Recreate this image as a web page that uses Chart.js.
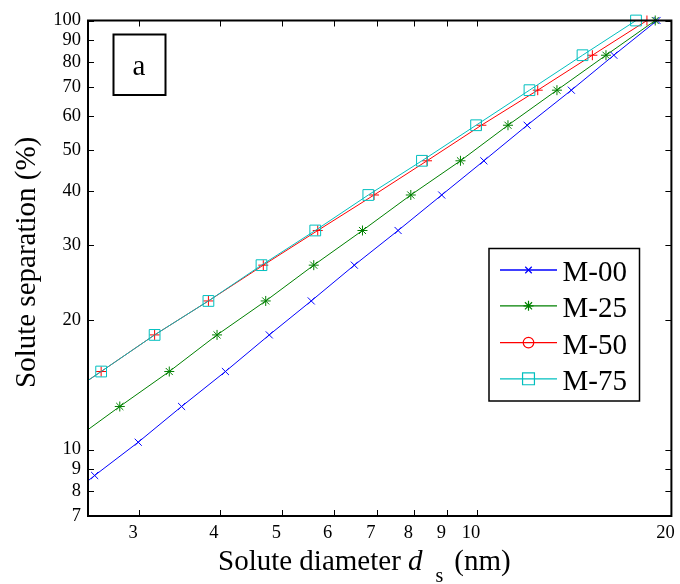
<!DOCTYPE html>
<html>
<head>
<meta charset="utf-8">
<title>Solute separation vs solute diameter</title>
<script src="https://cdn.jsdelivr.net/npm/chart.js@4/dist/chart.umd.min.js"></script>
<style>
  html, body { margin: 0; padding: 0; background: #ffffff; }
  #wrap { width: 680px; height: 584px; }
  canvas { display: block; }
</style>
</head>
<body>
<div id="wrap"><canvas id="chart" width="680" height="584"></canvas></div>
<script>
// Series labels
const seriesNames = ['M-00', 'M-25', 'M-50', 'M-75'];

// Solute diameter d_s (nm) for each membrane
const diameterM00 = [2.19, 2.56, 2.99, 3.49, 4.08, 4.77, 5.54, 6.46, 7.55, 8.82, 10.25, 11.96, 14.0, 16.29, 19.0];
const diameterM25 = [2.35, 2.80, 3.34, 3.96, 4.71, 5.59, 6.65, 7.90, 9.43, 11.17, 13.30, 15.84, 18.88];
const diameterM50 = [2.18, 2.62, 3.17, 3.84, 4.67, 5.67, 6.93, 8.37, 10.16, 12.42, 15.09, 18.33];
const diameterM75 = [2.18, 2.62, 3.17, 3.84, 4.64, 5.62, 6.79, 8.22, 9.97, 12.06, 14.57, 17.63];

// Solute separation (%) for each membrane
const separationM00 = [7.2, 8.7, 10.4, 12.6, 15.2, 18.5, 22.2, 26.9, 32.4, 39.2, 47.1, 57.0, 68.8, 83.0, 100];
const separationM25 = [10.4, 12.6, 15.2, 18.5, 22.2, 26.9, 32.4, 39.2, 47.1, 57.0, 68.8, 83.0, 100];
const separationM50 = [12.6, 15.2, 18.5, 22.2, 26.9, 32.4, 39.2, 47.1, 57.0, 68.8, 83.0, 100];
const separationM75 = [12.6, 15.2, 18.5, 22.2, 26.9, 32.4, 39.2, 47.1, 57.0, 68.8, 83.0, 100];

// Axis ticks
const xTicks = [3, 4, 5, 6, 7, 8, 9, 10, 20];
const yTicks = [7, 8, 9, 10, 20, 30, 40, 50, 60, 70, 80, 90, 100];

const SERIF = "'Liberation Serif', 'Times New Roman', serif";

const colors = ['#0000ff', '#008000', '#ff0000', '#00bfbf'];
const plotMarkers = ['crossRot', 'star', 'cross', 'rect'];
const plotRadius = [5, 5, 5, 7.6];
const legendMarkers = ['crossRot', 'star', 'circle', 'rect'];
const legendRadius = [4.6, 5, 5.3, 8.4];

function toPoints(xs, ys) {
  return xs.map((x, i) => ({ x: x, y: ys[i] }));
}

const seriesData = [
  toPoints(diameterM00, separationM00),
  toPoints(diameterM25, separationM25),
  toPoints(diameterM50, separationM50),
  toPoints(diameterM75, separationM75)
];

const datasets = seriesNames.map((name, i) => ({
  label: name,
  data: seriesData[i],
  borderColor: colors[i],
  backgroundColor: 'rgba(0,0,0,0)',
  borderWidth: 1,
  pointStyle: plotMarkers[i],
  pointRadius: plotRadius[i],
  pointBorderWidth: 1,
  pointBorderColor: colors[i],
  pointBackgroundColor: 'rgba(0,0,0,0)',
  tension: 0,
  fill: false,
  order: seriesNames.length - 1 - i,
  clip: { left: 0, top: 12, right: 12, bottom: 0 }
}));

// Frame, inward ticks, axis titles, panel label and legend
const decorations = {
  id: 'decorations',
  afterDraw(chart) {
    const ctx = chart.ctx;
    const area = chart.chartArea;
    const xs = chart.scales.x;
    const ys = chart.scales.y;
    const tickLen = 6;

    ctx.save();
    // inward tick marks on all four sides
    ctx.strokeStyle = '#000000';
    ctx.lineWidth = 1;
    ctx.beginPath();
    xTicks.forEach(v => {
      const px = Math.round(xs.getPixelForValue(v)) + 0.5;
      ctx.moveTo(px, area.bottom); ctx.lineTo(px, area.bottom - tickLen);
      ctx.moveTo(px, area.top); ctx.lineTo(px, area.top + tickLen);
    });
    yTicks.forEach(v => {
      const py = Math.round(ys.getPixelForValue(v)) + 0.5;
      ctx.moveTo(area.left, py); ctx.lineTo(area.left + tickLen, py);
      ctx.moveTo(area.right, py); ctx.lineTo(area.right - tickLen, py);
    });
    ctx.stroke();

    // plot frame
    ctx.lineWidth = 2;
    ctx.strokeRect(area.left, area.top, area.right - area.left, area.bottom - area.top);

    // x-axis title with italic d and subscript s
    ctx.fillStyle = '#000000';
    ctx.textBaseline = 'alphabetic';
    ctx.textAlign = 'left';
    let tx = 218;
    const baseY = 570;
    ctx.font = '29px ' + SERIF;
    const part1 = 'Solute diameter ';
    ctx.fillText(part1, tx, baseY);
    tx += ctx.measureText(part1).width;
    ctx.font = 'italic 29px ' + SERIF;
    ctx.fillText('d', tx, baseY);
    tx += ctx.measureText('d').width + 13;
    ctx.font = '20px ' + SERIF;
    ctx.fillText('s', tx, baseY + 12);
    tx += ctx.measureText('s').width + 11;
    ctx.font = '29px ' + SERIF;
    ctx.fillText('(nm)', tx, baseY);

    // y-axis title, rotated
    ctx.save();
    ctx.translate(35, 388);
    ctx.rotate(-Math.PI / 2);
    ctx.font = '29px ' + SERIF;
    ctx.textAlign = 'left';
    ctx.fillText('Solute separation (%)', 0, 0);
    ctx.restore();

    // panel label box
    ctx.lineWidth = 2;
    ctx.strokeStyle = '#000000';
    ctx.fillStyle = '#ffffff';
    ctx.fillRect(113.5, 34.5, 52, 60.5);
    ctx.strokeRect(113.5, 34.5, 52, 60.5);
    ctx.fillStyle = '#000000';
    ctx.font = '29px ' + SERIF;
    ctx.textAlign = 'center';
    ctx.fillText('a', 139, 74.5);

    // legend
    const lg = { left: 489, top: 248.5, right: 639.5, bottom: 401 };
    ctx.fillStyle = '#ffffff';
    ctx.fillRect(lg.left, lg.top, lg.right - lg.left, lg.bottom - lg.top);
    ctx.lineWidth = 1.5;
    ctx.strokeStyle = '#000000';
    ctx.strokeRect(lg.left, lg.top, lg.right - lg.left, lg.bottom - lg.top);
    const rowY = [270, 305.8, 342.6, 378.8];
    ctx.textAlign = 'left';
    ctx.font = '29px ' + SERIF;
    seriesNames.forEach((name, i) => {
      const y = rowY[i];
      ctx.strokeStyle = colors[i];
      ctx.lineWidth = 1.3;
      ctx.beginPath();
      ctx.moveTo(500, y); ctx.lineTo(557, y);
      ctx.stroke();
      ctx.lineWidth = 1.2;
      ctx.fillStyle = 'rgba(0,0,0,0)';
      Chart.helpers.drawPoint(ctx, {
        pointStyle: legendMarkers[i],
        radius: legendRadius[i],
        rotation: 0,
        borderWidth: 1.2
      }, 528.5, y);
      ctx.fillStyle = '#000000';
      ctx.fillText(name, 562.5, y + 11);
    });
    ctx.restore();
  }
};

new Chart(document.getElementById('chart'), {
  type: 'line',
  data: { datasets: datasets },
  options: {
    responsive: false,
    animation: false,
    devicePixelRatio: 1,
    layout: { padding: { top: 20.5, right: 4, left: 0, bottom: 0 } },
    plugins: {
      legend: { display: false },
      tooltip: { enabled: false },
      title: { display: false }
    },
    scales: {
      x: {
        type: 'logarithmic',
        position: 'bottom',
        min: 2.5,
        max: 20,
        grid: { display: false, drawTicks: false },
        border: { display: false },
        afterBuildTicks: (scale) => { scale.ticks = xTicks.map(v => ({ value: v })); },
        afterFit: (scale) => { scale.height = 68; scale.paddingLeft = 0; scale.paddingRight = 0; },
        ticks: {
          autoSkip: false,
          maxRotation: 0,
          minRotation: 0,
          padding: 6,
          labelOffset: -6,
          color: '#000000',
          font: { family: SERIF, size: 18.5 },
          callback: (v) => String(v)
        }
      },
      y: {
        type: 'logarithmic',
        position: 'left',
        min: 7,
        max: 100,
        grid: { display: false, drawTicks: false },
        border: { display: false },
        afterBuildTicks: (scale) => { scale.ticks = yTicks.map(v => ({ value: v })); },
        afterFit: (scale) => { scale.width = 88; scale.paddingTop = 0; scale.paddingBottom = 0; },
        ticks: {
          autoSkip: false,
          padding: 7,
          color: '#000000',
          font: { family: SERIF, size: 18.5 },
          callback: (v) => String(v)
        }
      }
    }
  },
  plugins: [decorations]
});
</script>
</body>
</html>
